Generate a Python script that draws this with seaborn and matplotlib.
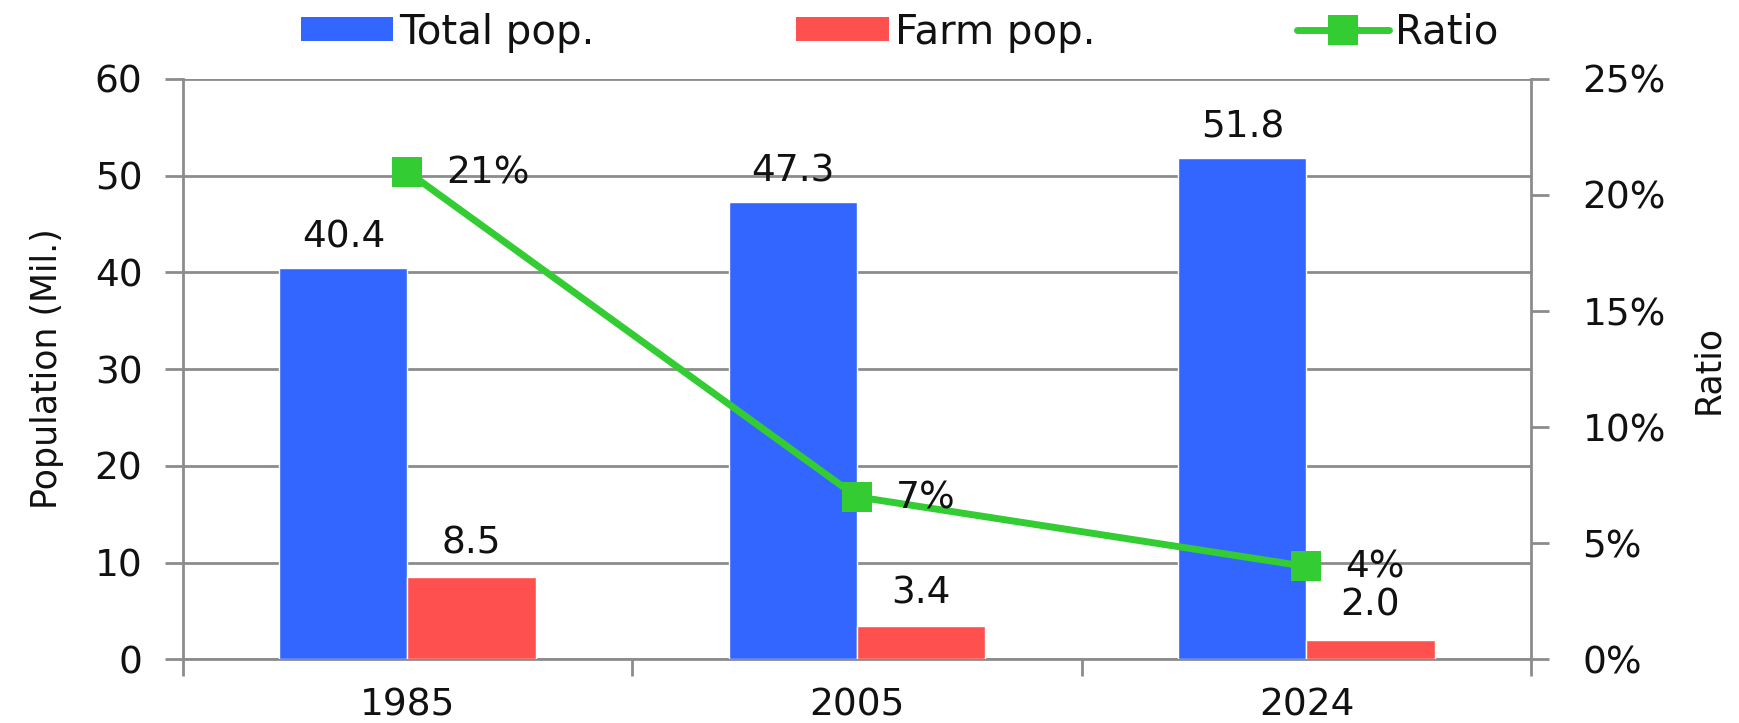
import matplotlib
matplotlib.use("Agg")
import matplotlib.pyplot as plt
import seaborn as sns
import pandas as pd
import numpy as np
from matplotlib.patches import Patch
from matplotlib.lines import Line2D
from matplotlib.ticker import FixedLocator, FuncFormatter

# ---- data ----
years = ["1985", "2005", "2024"]
total_pop = [40.4, 47.3, 51.8]
farm_pop = [8.5, 3.4, 2.0]
ratio_pct = [21, 7, 4]
series_names = ["Total pop.", "Farm pop.", "Ratio"]
left_ticks = [0, 10, 20, 30, 40, 50, 60]
right_ticks = [0, 5, 10, 15, 20, 25]

# ---- style ----
BLUE = "#3366FF"
RED = "#FF5050"
GREEN = "#33CC33"
GRAY = "#8C8C8C"
TXT = "#111111"
FS = 27

df = pd.DataFrame({
    "Year": years * 2,
    "Series": [series_names[0]] * len(years) + [series_names[1]] * len(years),
    "Value": total_pop + farm_pop,
})

sns.set_theme(style="white")
plt.rcParams["font.family"] = ["DejaVu Sans"]
plt.rcParams["text.color"] = TXT
plt.rcParams["axes.labelcolor"] = TXT
plt.rcParams["xtick.labelcolor"] = TXT
plt.rcParams["ytick.labelcolor"] = TXT

fig = plt.figure(figsize=(17.4, 7.23), dpi=100)
ax = fig.add_axes([0.105, 0.088, 0.775, 0.803])

sns.barplot(data=df, x="Year", y="Value", hue="Series",
            palette={series_names[0]: BLUE, series_names[1]: RED},
            width=0.57, saturation=1, ax=ax, legend=False, zorder=3)

# bar value labels
pads = [[9, 9, 9], [11, 11, 12]]
for ci, cont in enumerate(ax.containers):
    for j, rect in enumerate(cont):
        h = rect.get_height()
        ax.annotate(f"{h:.1f}", (rect.get_x() + rect.get_width() / 2, h),
                    xytext=(0, pads[ci][j]), textcoords="offset points",
                    ha="center", va="bottom", fontsize=FS, color=TXT, zorder=6)

ax.set_ylim(0, 60)
ax.set_xlim(-0.5, len(years) - 0.5)
ax.yaxis.set_major_locator(FixedLocator(left_ticks))
ax.yaxis.grid(True, color=GRAY, linewidth=2)
ax.set_axisbelow(True)
ax.set_xlabel("")
ax.set_ylabel("Population (Mil.)", fontsize=FS - 2, labelpad=22)
ax.tick_params(axis="y", which="major", length=13, width=2, color=GRAY,
               direction="out", labelsize=FS, pad=16, left=True)
ax.set_xticks(range(len(years)))
ax.set_xticklabels(years)
ax.set_xticks(np.arange(-0.5, len(years), 1.0), minor=True)
ax.tick_params(axis="x", which="major", length=0, labelsize=FS, pad=20)
ax.tick_params(axis="x", which="minor", length=12, width=2, color=GRAY,
               direction="out", bottom=True)
for s in ["top", "right"]:
    ax.spines[s].set_visible(False)
for s in ["left", "bottom"]:
    ax.spines[s].set_color(GRAY)
    ax.spines[s].set_linewidth(2)

# ratio line on secondary axis
ax2 = ax.twinx()
sns.lineplot(x=np.arange(len(years)), y=ratio_pct, ax=ax2, color=GREEN,
             linewidth=5, marker="s", markersize=21, markeredgewidth=0,
             zorder=5)
for i, r in enumerate(ratio_pct):
    ax2.annotate(f"{r}%", (i, r), xytext=(28, -1), textcoords="offset points",
                 ha="left", va="center", fontsize=FS, color=TXT, zorder=6)
ax2.set_ylim(0, 25)
ax2.yaxis.set_major_locator(FixedLocator(right_ticks))
ax2.yaxis.set_major_formatter(FuncFormatter(lambda v, p: f"{v:.0f}%"))
ax2.tick_params(axis="y", length=13, width=2, color=GRAY, direction="out",
                labelsize=FS, pad=24, right=True)
ax2.set_ylabel("Ratio", fontsize=FS - 2, rotation=90, labelpad=18)
for s in ["top", "left", "bottom"]:
    ax2.spines[s].set_visible(False)
ax2.spines["right"].set_color(GRAY)
ax2.spines["right"].set_linewidth(2)
ax.set_xlim(-0.5, len(years) - 0.5)

# legend
handles = [
    Patch(facecolor=BLUE, edgecolor="none"),
    Patch(facecolor=RED, edgecolor="none"),
    Line2D([0], [0], color=GREEN, linewidth=5, marker="s", markersize=21,
           markeredgewidth=0),
]
fig.legend(handles, series_names, loc="center", bbox_to_anchor=(0.517, 0.955),
           ncol=3, frameon=False, fontsize=FS + 2, handlelength=2.3,
           handleheight=0.55, handletextpad=0.15, columnspacing=5.0)

fig.savefig("out.png", dpi=100)
